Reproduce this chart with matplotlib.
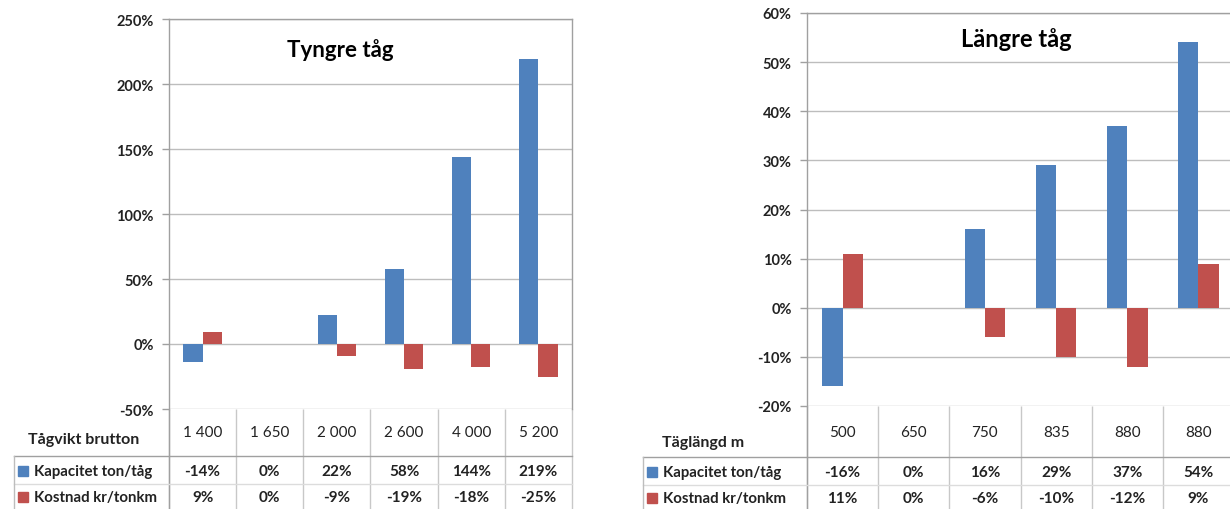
import matplotlib
matplotlib.use("Agg")
import matplotlib.pyplot as plt
import numpy as np
from matplotlib.lines import Line2D
from matplotlib.transforms import blended_transform_factory

plt.rcParams['font.family'] = ['Lato', 'DejaVu Sans']

# --- data ---
vikt_labels = ["1 400", "1 650", "2 000", "2 600", "4 000", "5 200"]
vikt_kapacitet = [-14, 0, 22, 58, 144, 219]
vikt_kostnad = [9, 0, -9, -19, -18, -25]

langd_labels = ["500", "650", "750", "835", "880", "880"]
langd_kapacitet = [-16, 0, 16, 29, 37, 54]
langd_kostnad = [11, 0, -6, -10, -12, 9]

series_names = ["Kapacitet ton/tåg", "Kostnad kr/tonkm"]

BLUE = "#4f81bd"
RED = "#c0504d"
GRID = "#bdbdbd"
BORDER = "#a0a0a0"
INK = "#222222"

W, H = 1230, 510
fig = plt.figure(figsize=(W / 100, H / 100), dpi=100)


def fx(px):
    return px / W


def fy(py):
    return 1 - py / H


def panel(left, right, top, bottom, labels, kap, kost, ylim, ystep,
          title, title_pos, title_size, row_title, table_left, header_y, hline_y):
    ax = fig.add_axes([fx(left), fy(bottom), fx(right - left), (bottom - top) / H])
    x = np.arange(len(labels))
    w = 1 / 3.5  # gap width 150 %
    ax.bar(x - w / 2, kap, w, color=BLUE, linewidth=0, zorder=3)
    ax.bar(x + w / 2, kost, w, color=RED, linewidth=0, zorder=3)

    ax.set_xlim(-0.5, len(labels) - 0.5)
    ax.set_ylim(*ylim)
    ticks = np.arange(ylim[0], ylim[1] + ystep, ystep)
    ax.set_yticks(ticks)
    ax.set_yticklabels([f"{t}%" for t in ticks], fontsize=10.5, fontweight='bold', color=INK)
    ax.set_xticks([])
    ax.tick_params(axis='y', length=5, width=1, color=BORDER, pad=6)
    ax.grid(axis='y', color=GRID, linewidth=1, zorder=0)
    for s in ax.spines.values():
        s.set_color(BORDER)
        s.set_linewidth(1)
    ax.spines['bottom'].set_visible(False)

    ax.text(title_pos[0], title_pos[1], title, transform=ax.transAxes,
            ha='center', va='center', fontsize=title_size, fontweight='bold')

    # data table below the plot
    tr = blended_transform_factory(ax.transData, fig.transFigure)
    ax.vlines(np.arange(len(labels) + 1) - 0.5, fy(H), fy(bottom), colors="#c8c8c8",
              linewidth=1, transform=tr, clip_on=False)
    ax.vlines([-0.5], fy(H), fy(bottom), colors=BORDER, linewidth=1,
              transform=tr, clip_on=False)
    for i, lab in enumerate(labels):
        ax.text(i, fy(header_y), lab, transform=tr, ha='center', va='center',
                fontsize=11, color=INK)
    row_ys = [hline_y + 15, hline_y + 41]
    for vals, ry in zip([kap, kost], row_ys):
        for i, v in enumerate(vals):
            ax.text(i, fy(ry), f"{v}%", transform=tr, ha='center', va='center',
                    fontsize=11, fontweight='bold', color=INK)

    fig.add_artist(Line2D([fx(table_left), fx(right)], [fy(hline_y)] * 2,
                          color=BORDER, linewidth=1))
    fig.add_artist(Line2D([fx(table_left), fx(right)], [fy(hline_y + 28)] * 2,
                          color="#dcdcdc", linewidth=1))
    fig.add_artist(Line2D([fx(table_left)] * 2, [fy(hline_y), fy(H)],
                          color=GRID, linewidth=1))

    fig.text(fx(row_title[0]), fy(row_title[1]), row_title[2], ha='center',
             va='center', fontsize=11.5, fontweight='bold', color=INK)
    for name, color, ry in zip(series_names, [BLUE, RED], row_ys):
        fig.patches.append(plt.Rectangle((fx(table_left + 4), fy(ry + 5)), fx(10), 10 / H,
                                         color=color, transform=fig.transFigure))
        fig.text(fx(table_left + 20), fy(ry), name, ha='left', va='center',
                 fontsize=10.8, fontweight='bold', color=INK)
    return ax


panel(169, 572, 20, 410, vikt_labels, vikt_kapacitet, vikt_kostnad,
      (-50, 250), 50, "Tyngre tåg", (0.424, 0.923), 16,
      (84, 440, "Tågvikt brutton"), 14, 433, 457)

panel(807, 1234, 14, 407, langd_labels, langd_kapacitet, langd_kostnad,
      (-20, 60), 10, "Längre tåg", (0.49, 0.934), 17,
      (703, 443, "Täglängd m"), 643, 433, 458)

fig.savefig("out.png", dpi=100)
